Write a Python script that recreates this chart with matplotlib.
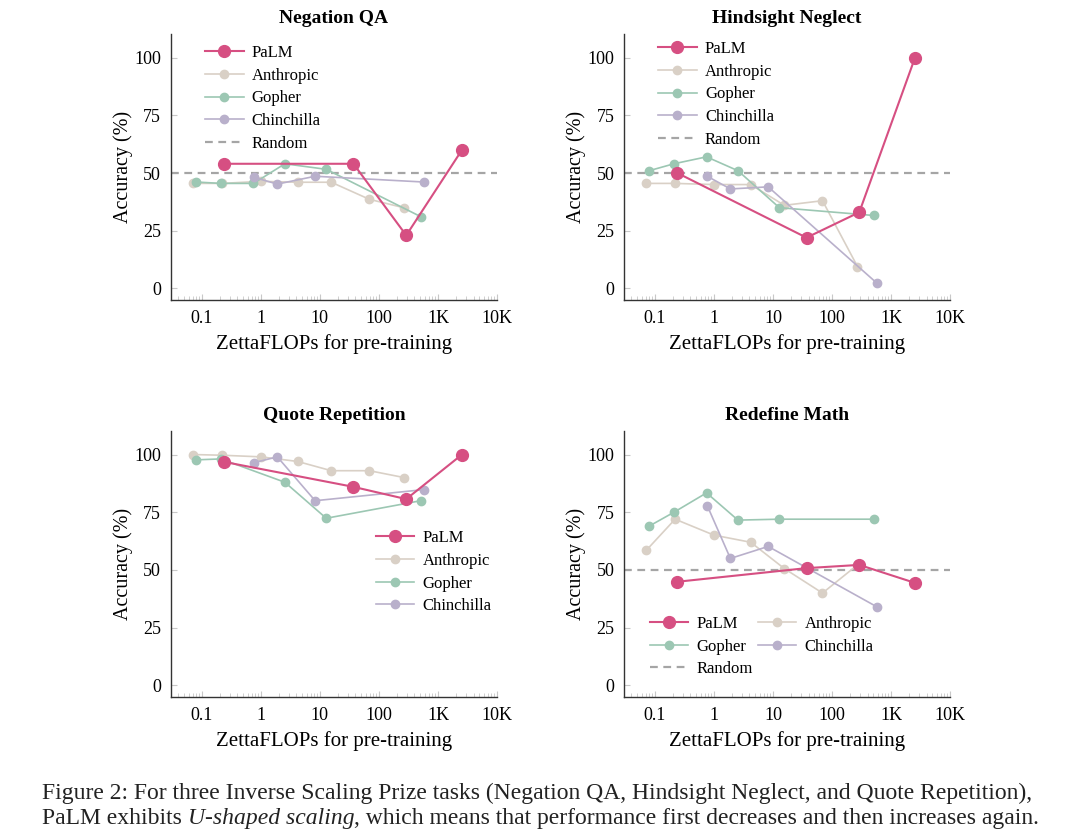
import numpy as np
import matplotlib
matplotlib.use("Agg")
import matplotlib.pyplot as plt

plt.rcParams["font.family"] = ["Liberation Serif", "DejaVu Serif"]

# Training compute (ZettaFLOPs) for each model family
palm_x = [0.24, 37, 290, 2550]
anthropic_x = [0.072, 0.22, 1.0, 4.2, 15.6, 69, 270]
gopher_x = [0.08, 0.21, 0.75, 2.55, 12.8, 510]
gopher_quote_x = [0.08, 0.21, 2.55, 12.8, 510]
chinchilla_x = [0.77, 1.9, 8.3, 570]

# Accuracy (%) per task
negation_palm = [54, 54, 23, 60]
negation_anthropic = [45.5, 45.5, 46.4, 46, 46, 38.6, 34.9]
negation_gopher = [46.1, 45.5, 45.5, 54, 51.6, 31.1]
negation_chinchilla = [48.1, 45.2, 48.6, 46.1]

hindsight_palm = [50, 22, 33, 100]
hindsight_anthropic = [45.5, 45.5, 45, 45, 36, 38, 9.5]
hindsight_gopher = [51, 54, 57, 51, 35, 31.6]
hindsight_chinchilla = [48.6, 43.1, 44, 2.4]

quote_palm = [96.8, 86, 80.7, 100]
quote_anthropic = [100, 99.7, 99, 97, 93, 93, 90]
quote_gopher = [97.7, 98.1, 88, 72.4, 80]
quote_chinchilla = [96.5, 99, 80, 84.8]

redefine_palm = [44.9, 50.8, 52.2, 44.4]
redefine_anthropic = [58.6, 72, 65.1, 62, 50.6, 40, 52.2]
redefine_gopher = [69, 75, 83.4, 71.6, 72, 72]
redefine_chinchilla = [77.9, 55, 60.2, 34.1]

random_level = 50

xticks = [0.1, 1, 10, 100, 1000, 10000]
xticklabels = ["0.1", "1", "10", "100", "1K", "10K"]
yticks = [0, 25, 50, 75, 100]

c_palm = "#d64f82"
c_anthropic = "#d9d0c6"
c_gopher = "#9cc7b3"
c_chinchilla = "#b9b0cb"
c_random = "#a5a5a5"

fig = plt.figure(figsize=(10.8, 8.31), dpi=100)

W = 0.3019
H = 0.3195
ax1 = fig.add_axes([0.1583, 0.639, W, H])
ax2 = fig.add_axes([0.5778, 0.639, W, H])
ax3 = fig.add_axes([0.1583, 0.1613, W, H])
ax4 = fig.add_axes([0.5778, 0.1613, W, H])


def draw(ax, title, palm, anth, goph, chin, gx=gopher_x, show_random=True):
    lines = {}
    lines["Anthropic"], = ax.plot(anthropic_x, anth, "-o", color=c_anthropic, lw=1.2, ms=6, zorder=3)
    lines["Gopher"], = ax.plot(gx, goph, "-o", color=c_gopher, lw=1.2, ms=6, zorder=3)
    lines["Chinchilla"], = ax.plot(chinchilla_x, chin, "-o", color=c_chinchilla, lw=1.2, ms=6, zorder=3)
    lines["PaLM"], = ax.plot(palm_x, palm, "-o", color=c_palm, lw=1.5, ms=8.5, zorder=4)
    if show_random:
        lines["Random"] = ax.axhline(random_level, color=c_random, lw=1.6, ls=(0, (3.5, 2.5)), zorder=2)
    ax.set_xscale("log")
    ax.set_xlim(0.03, 10000)
    ax.set_ylim(-5, 110)
    ax.set_xticks(xticks)
    ax.set_xticklabels(xticklabels)
    ax.set_yticks(yticks)
    ax.tick_params(axis="both", which="both", direction="in", color="#c8c8c8", labelsize=13)
    ax.tick_params(axis="x", which="major", length=4, pad=7)
    ax.tick_params(axis="x", which="minor", length=3)
    ax.tick_params(axis="y", which="major", length=4, pad=7)
    for s in ["top", "right"]:
        ax.spines[s].set_visible(False)
    for s in ["left", "bottom"]:
        ax.spines[s].set_color("#333333")
        ax.spines[s].set_linewidth(1.0)
    ax.set_title(title, fontsize=14, fontweight="bold", pad=8)
    ax.set_xlabel("ZettaFLOPs for pre-training", fontsize=15, labelpad=5)
    ax.set_ylabel("Accuracy (%)", fontsize=14.5, labelpad=1)
    return lines


l1 = draw(ax1, "Negation QA", negation_palm, negation_anthropic, negation_gopher, negation_chinchilla)
l2 = draw(ax2, "Hindsight Neglect", hindsight_palm, hindsight_anthropic, hindsight_gopher, hindsight_chinchilla)
l3 = draw(ax3, "Quote Repetition", quote_palm, quote_anthropic, quote_gopher, quote_chinchilla,
          gx=gopher_quote_x, show_random=False)
l4 = draw(ax4, "Redefine Math", redefine_palm, redefine_anthropic, redefine_gopher, redefine_chinchilla)

leg_kw = dict(frameon=False, fontsize=12, handlelength=2.3, handletextpad=0.5,
              labelspacing=0.4, borderpad=0, borderaxespad=0, loc="upper left")

order = ["PaLM", "Anthropic", "Gopher", "Chinchilla", "Random"]
ax1.legend([l1[k] for k in order], order, bbox_to_anchor=(0.105, 0.96), **leg_kw)
ax2.legend([l2[k] for k in order], order, bbox_to_anchor=(0.105, 0.975), **leg_kw)
order3 = ["PaLM", "Anthropic", "Gopher", "Chinchilla"]
ax3.legend([l3[k] for k in order3], order3, bbox_to_anchor=(0.628, 0.628), **leg_kw)
order4 = ["PaLM", "Gopher", "Random", "Anthropic", "Chinchilla"]
ax4.legend([l4[k] for k in order4], order4, ncol=2, columnspacing=0.3,
           bbox_to_anchor=(0.08, 0.305), **leg_kw)

# caption
cap_kw = dict(fontsize=17, color="#222222")
fig.text(0.039, 0.039, "Figure 2: For three Inverse Scaling Prize tasks (Negation QA, Hindsight Neglect, and Quote Repetition),",
         va="baseline", **cap_kw)
t1 = fig.text(0.039, 0.009, "PaLM exhibits ", va="baseline", **cap_kw)
t2 = fig.text(0, 0, "U-shaped scaling", style="italic", va="baseline", **cap_kw)
fig.canvas.draw()
r = fig.canvas.get_renderer()
bb = t1.get_window_extent(r)
t2.set_position((bb.x1 / fig.bbox.width, 0.009))
bb2 = t2.get_window_extent(r)
fig.text(bb2.x1 / fig.bbox.width, 0.009,
         ", which means that performance first decreases and then increases again.",
         va="baseline", **cap_kw)

fig.savefig("out.png", dpi=100)
